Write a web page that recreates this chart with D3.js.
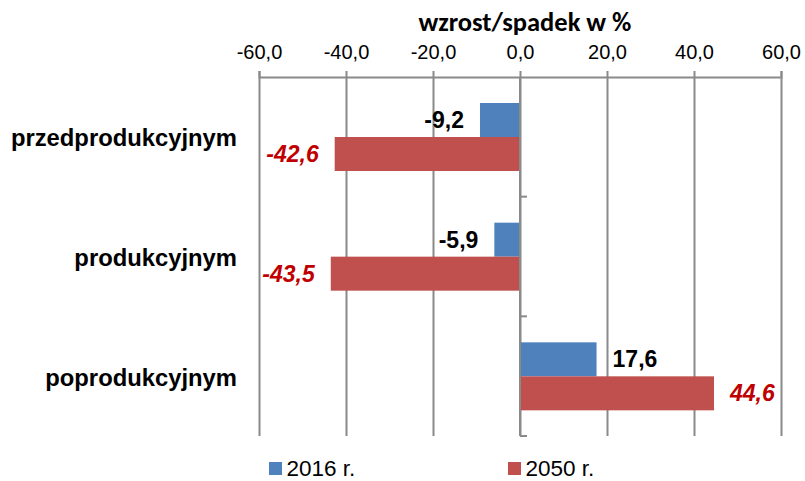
<!DOCTYPE html>
<html><head><meta charset="utf-8">
<script src="https://cdn.jsdelivr.net/npm/d3@7"></script>
<style>body{margin:0;background:#fff}svg{display:block}</style>
</head><body>
<svg id="c" width="805" height="481"></svg>
<script>
const categories = ["przedprodukcyjnym", "produkcyjnym", "poprodukcyjnym"];
const seriesNames = ["2016 r.", "2050 r."];
const values2016 = [-9.2, -5.9, 17.6];
const values2050 = [-42.6, -43.5, 44.6];
const xTicks = [-60, -40, -20, 0, 20, 40, 60];
const axisTitle = "wzrost/spadek w %";

const colors = {"2016 r.": "#4f81bd", "2050 r.": "#c0504d"};
const labelColors = {"2016 r.": "#000000", "2050 r.": "#c00000"};
const labelItalic = {"2016 r.": false, "2050 r.": true};

const svg = d3.select("#c");
const plotTop = 77, plotBottom = 436;
const x = d3.scaleLinear().domain([-60, 60]).range([259, 781]);
const y = d3.scaleBand().domain(categories).range([plotTop, plotBottom]).padding(0);
const inner = d3.scaleBand().domain(seriesNames).range([26, 94]).padding(0);
const fmt = v => d3.format(".1f")(v).replace(".", ",").replace("−", "-");

// gridlines
const grid = svg.append("g").attr("transform", `translate(0,${plotTop})`)
  .call(d3.axisTop(x).tickValues(xTicks).tickSize(-(plotBottom - plotTop)).tickFormat(""));
grid.select(".domain").remove();
grid.selectAll("line").attr("stroke", "#8a8a8a").attr("stroke-width", 2);

// top axis
const ax = svg.append("g").attr("transform", `translate(0,${plotTop})`)
  .call(d3.axisTop(x).tickValues(xTicks).tickSize(6).tickSizeOuter(6).tickPadding(12).tickFormat(fmt));
ax.select(".domain").attr("stroke", "#8a8a8a").attr("stroke-width", 2);
ax.selectAll(".tick line").attr("stroke", "#8a8a8a").attr("stroke-width", 2);
ax.selectAll("text").attr("font-family", "Arial, 'Liberation Sans', sans-serif")
  .attr("font-size", 20).attr("fill", "#000");

// title
svg.append("text").attr("x", 525).attr("y", 31).attr("text-anchor", "middle")
  .attr("font-family", "Carlito, Lato, sans-serif").attr("font-weight", "bold")
  .attr("font-size", 26.5).attr("fill", "#000").text(axisTitle);

// bars
const data = [];
categories.forEach((c, i) => {
  data.push({cat: c, s: "2016 r.", v: values2016[i]});
  data.push({cat: c, s: "2050 r.", v: values2050[i]});
});
svg.append("g").selectAll("rect").data(data).join("rect")
  .attr("x", d => Math.min(x(0), x(d.v)))
  .attr("width", d => Math.abs(x(d.v) - x(0)))
  .attr("y", d => y(d.cat) + inner(d.s))
  .attr("height", inner.bandwidth())
  .attr("fill", d => colors[d.s]);

// zero axis with ticks at band boundaries
const zg = svg.append("g");
zg.append("line").attr("x1", x(0)).attr("x2", x(0)).attr("y1", plotTop).attr("y2", plotBottom)
  .attr("stroke", "#8a8a8a").attr("stroke-width", 2);
zg.selectAll("line.t").data(categories).join("line").attr("class", "t")
  .attr("x1", x(0)).attr("x2", x(0) + 7)
  .attr("y1", d => y(d) + y.bandwidth()).attr("y2", d => y(d) + y.bandwidth())
  .attr("stroke", "#8a8a8a").attr("stroke-width", 2);

// value labels
svg.append("g").selectAll("text").data(data).join("text")
  .attr("x", d => d.v < 0 ? x(d.v) - 16 : x(d.v) + 16)
  .attr("y", d => y(d.cat) + inner(d.s) + inner.bandwidth() / 2 + 8)
  .attr("text-anchor", d => d.v < 0 ? "end" : "start")
  .attr("font-family", "Arial, 'Liberation Sans', sans-serif")
  .attr("font-weight", "bold").attr("font-size", 23)
  .attr("font-style", d => labelItalic[d.s] ? "italic" : "normal")
  .attr("fill", d => labelColors[d.s])
  .text(d => fmt(d.v));

// category labels
svg.append("g").selectAll("text").data(categories).join("text")
  .attr("x", 237).attr("y", d => y(d) + y.bandwidth() / 2 + 9.5)
  .attr("text-anchor", "end")
  .attr("font-family", "Arial, 'Liberation Sans', sans-serif")
  .attr("font-weight", "bold").attr("font-size", 23.8).attr("fill", "#000")
  .text(d => d);

// legend
const legX = [269, 508];
const lg = svg.append("g").selectAll("g").data(seriesNames).join("g")
  .attr("transform", (d, i) => `translate(${legX[i]},0)`);
lg.append("rect").attr("x", 0).attr("y", 462).attr("width", 13).attr("height", 13)
  .attr("fill", d => colors[d]);
lg.append("text").attr("x", 17.5).attr("y", 476)
  .attr("font-family", "Arial, 'Liberation Sans', sans-serif")
  .attr("font-size", 22.5).attr("fill", "#000").text(d => d);
</script>
</body></html>
